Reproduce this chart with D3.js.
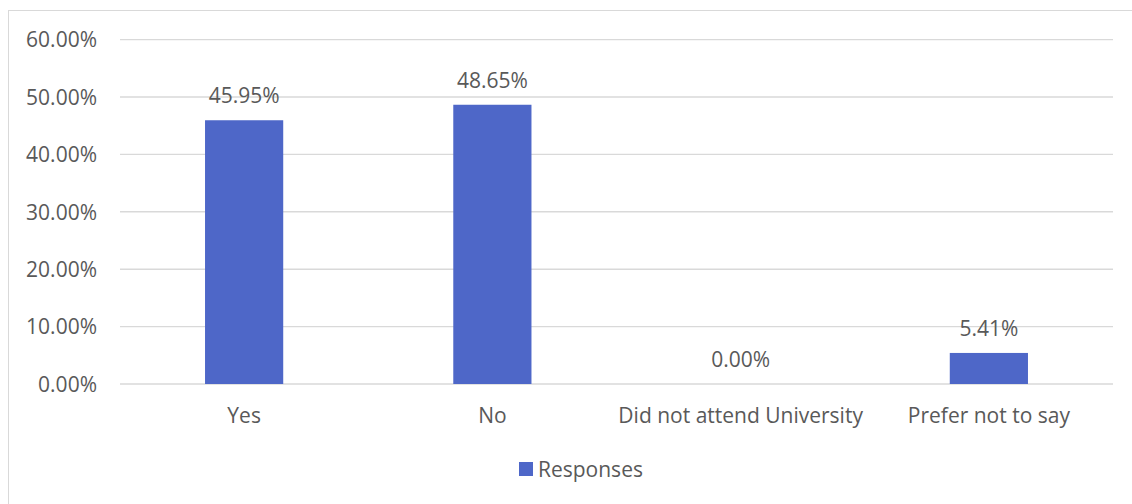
<!DOCTYPE html>
<html>
<head>
<meta charset="utf-8">
<script src="https://cdn.jsdelivr.net/npm/d3@7"></script>
<style>
  html, body { margin: 0; padding: 0; background: #fff; }
  svg { display: block; }
  text { font-family: "Open Sans", sans-serif; fill: #595959; }
</style>
</head>
<body>
<svg id="chart" width="1132" height="504"></svg>
<script>
const categories = ["Yes", "No", "Did not attend University", "Prefer not to say"];
const values = [45.95, 48.65, 0.00, 5.41];
const yTicks = [0, 10, 20, 30, 40, 50, 60];
const seriesName = "Responses";

const W = 1132, H = 504;
const margin = { left: 120, right: 19, top: 40, bottom: 120 };
const svg = d3.select("#chart");

// outer chart border
svg.append("rect")
  .attr("x", 8.5).attr("y", 10.5)
  .attr("width", W).attr("height", H)
  .attr("fill", "none").attr("stroke", "#d9d9d9").attr("stroke-width", 1);

const x = d3.scaleBand().domain(categories).range([120, 1113]).padding(0);
const y = d3.scaleLinear().domain([0, 60]).range([384, 39.6]);
const barW = x.bandwidth() * 0.315;

// gridlines
svg.append("g").selectAll("line").data(yTicks).join("line")
  .attr("x1", 120).attr("x2", 1113)
  .attr("y1", d => y(d)).attr("y2", d => y(d))
  .attr("stroke", "#d9d9d9").attr("stroke-width", 1.4);

// y axis labels
const yAxis = d3.axisLeft(y).tickValues(yTicks).tickSize(0).tickPadding(0)
  .tickFormat(d => d3.format(".2f")(d) + "%");
const ga = svg.append("g").attr("transform", "translate(97,0)").call(yAxis);
ga.select(".domain").remove();
ga.selectAll("text").attr("font-size", 21).attr("font-family", "Open Sans").attr("fill", "#595959").attr("dy", "0.35em");

// bars
svg.append("g").selectAll("rect").data(values).join("rect")
  .attr("x", (d, i) => x(categories[i]) + x.bandwidth() / 2 - barW / 2)
  .attr("width", barW)
  .attr("y", d => y(d))
  .attr("height", d => y(0) - y(d))
  .attr("fill", "#4e67c8");

// data labels
svg.append("g").selectAll("text").data(values).join("text")
  .attr("x", (d, i) => x(categories[i]) + x.bandwidth() / 2)
  .attr("y", d => y(d) - 17)
  .attr("text-anchor", "middle")
  .attr("font-size", 21)
  .text(d => d3.format(".2f")(d) + "%");

// x axis labels
const xAxis = d3.axisBottom(x).tickSize(0).tickPadding(0);
const gx = svg.append("g").attr("transform", "translate(0,408)").call(xAxis);
gx.select(".domain").remove();
gx.selectAll("text").attr("font-size", 21).attr("font-family", "Open Sans").attr("fill", "#595959").attr("dy", 0).attr("y", 15);

// legend
svg.append("rect").attr("x", 519).attr("y", 462).attr("width", 14).attr("height", 14).attr("fill", "#4e67c8");
svg.append("text").attr("x", 538).attr("y", 476.5).attr("font-size", 21).text(seriesName);
</script>
</body>
</html>
